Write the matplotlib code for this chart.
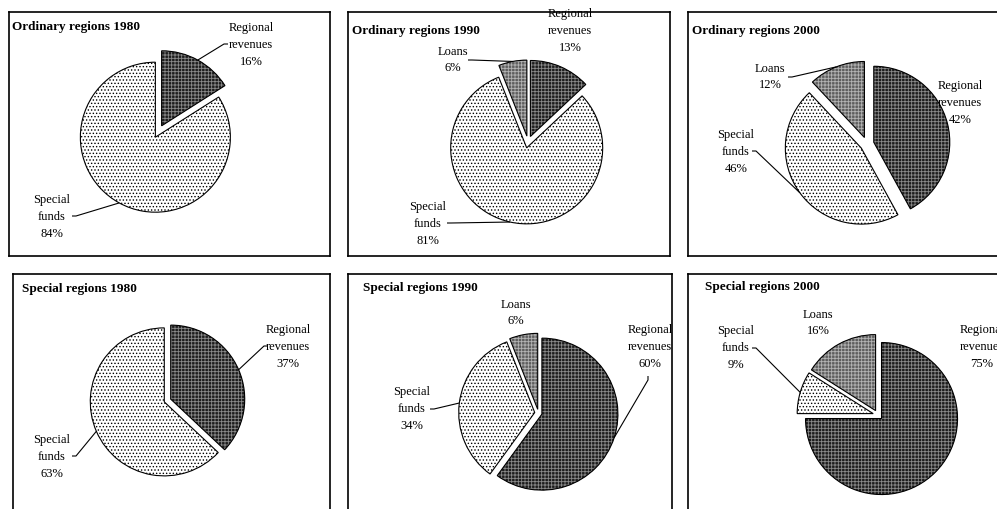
import matplotlib
matplotlib.use("Agg")
import matplotlib.pyplot as plt
import matplotlib.patches as mpatches
import numpy as np

# ---------------- data ----------------
categories = ["Regional\nrevenues", "Special\nfunds", "Loans"]
titles = ["Ordinary regions 1980", "Ordinary regions 1990", "Ordinary regions 2000",
          "Special regions 1980", "Special regions 1990", "Special regions 2000"]
ordinary_1980 = [16, 84, 0]
ordinary_1990 = [13, 81, 6]
ordinary_2000 = [42, 46, 12]
special_1980 = [37, 63, 0]
special_1990 = [60, 34, 6]
special_2000 = [75, 9, 16]
panel_values = [ordinary_1980, ordinary_1990, ordinary_2000,
                special_1980, special_1990, special_2000]

# ---------------- style / layout (image pixel coords, y down) ----------------
W, H = 997, 510
plt.rcParams['font.family'] = ['Liberation Serif', 'DejaVu Serif']
plt.rcParams['hatch.linewidth'] = 0.6

boxes = [(9, 13, 330, 257), (348, 13, 670, 257), (688, 13, 1010, 257),
         (13, 275, 330, 520), (348, 275, 672, 520), (688, 275, 1010, 520)]
pie_geom = [((158.5, 132.5), 75, 6.5), ((528, 143), 76, 6), ((867, 145), 76, 7),
            ((167.5, 401.5), 74, 3.5), ((538.4, 414), 76, 3.7), ((878, 416), 76, 5)]
title_pos = [(12, 27), (352, 31), (692, 31), (22, 289), (363, 288), (705, 287)]

# per panel, per category: (text center x, y, leader start or None, first leader step)
label_layout = [
    {0: (251, 45, (228, 45), (-4, 0)), 1: (52, 217, (72, 217), (4, 0))},
    {0: (570, 31, None, None), 1: (428, 224, (447, 224), (4, 0)), 2: (453, 60, (468, 61), (4, 0))},
    {0: (960, 103, None, None), 1: (736, 152, (752, 152), (4, 0)), 2: (770, 77, (788, 78), (4, 0))},
    {0: (288, 347, (268, 347), (-4, 0)), 1: (52, 457, (72, 457), (4, 0))},
    {0: (650, 347, (648, 377), (0, 4)), 1: (412, 409, (430, 410), (4, 0)), 2: (516, 313, None, None)},
    {0: (982, 347, None, None), 1: (736, 348, (752, 349), (4, 0)), 2: (818, 323, None, None)},
]

fills = ['#1c1c1c', '#ffffff', '#5e5e5e']
hatches = ['+++++', '.....', '+++++']
hatch_colors = ['#8a8a8a', '#000000', '#b4b4b4']

fig = plt.figure(figsize=(W / 100, H / 100), dpi=100)
fig.patch.set_facecolor('white')

for i, vals in enumerate(panel_values):
    x0, y0, x1, y1 = boxes[i]
    ax = fig.add_axes([x0 / W, 1 - y1 / H, (x1 - x0) / W, (y1 - y0) / H])
    ax.set_xlim(x0, x1)
    ax.set_ylim(-y1, -y0)
    ax.set_xticks([])
    ax.set_yticks([])
    for s in ax.spines.values():
        s.set_linewidth(1.2)
        s.set_color('black')

    (cx, cy), r, ex = pie_geom[i]
    idx = [k for k, v in enumerate(vals) if v > 0]
    v_nz = [vals[k] for k in idx]
    wedges, _ = ax.pie(v_nz, center=(cx, -cy), radius=r, startangle=90,
                       counterclock=False, explode=[ex] * len(v_nz), frame=True,
                       colors=[fills[k] for k in idx],
                       wedgeprops=dict(edgecolor='none', linewidth=0))
    ax.set_xlim(x0, x1)
    ax.set_ylim(-y1, -y0)
    ax.set_aspect('auto')

    for w, k in zip(wedges, idx):
        hp = mpatches.Wedge(w.center, w.r, w.theta1, w.theta2, fill=False,
                            hatch=hatches[k], edgecolor=hatch_colors[k], linewidth=0)
        ax.add_patch(hp)
        op = mpatches.Wedge(w.center, w.r, w.theta1, w.theta2, fill=False,
                            edgecolor='black', linewidth=0.8)
        ax.add_patch(op)

        tx, ty, start, step = label_layout[i][k]
        ax.text(tx, -ty, f"{categories[k]}\n{vals[k]}%", ha='center', va='center',
                fontsize=9, linespacing=1.52, color='black')
        if start is not None:
            tm = np.deg2rad((w.theta1 + w.theta2) / 2)
            px = w.center[0] + w.r * np.cos(tm)
            py = w.center[1] + w.r * np.sin(tm)
            sx, sy = start[0], -start[1]
            mx, my = sx + step[0], sy - step[1]
            ax.plot([sx, mx, px], [sy, my, py], color='black', lw=0.8,
                    solid_capstyle='butt')

    tx, ty = title_pos[i]
    ax.text(tx, -ty, titles[i], ha='left', va='center', fontsize=9.5,
            fontweight='bold', color='black')

fig.savefig('out.png', dpi=100)
